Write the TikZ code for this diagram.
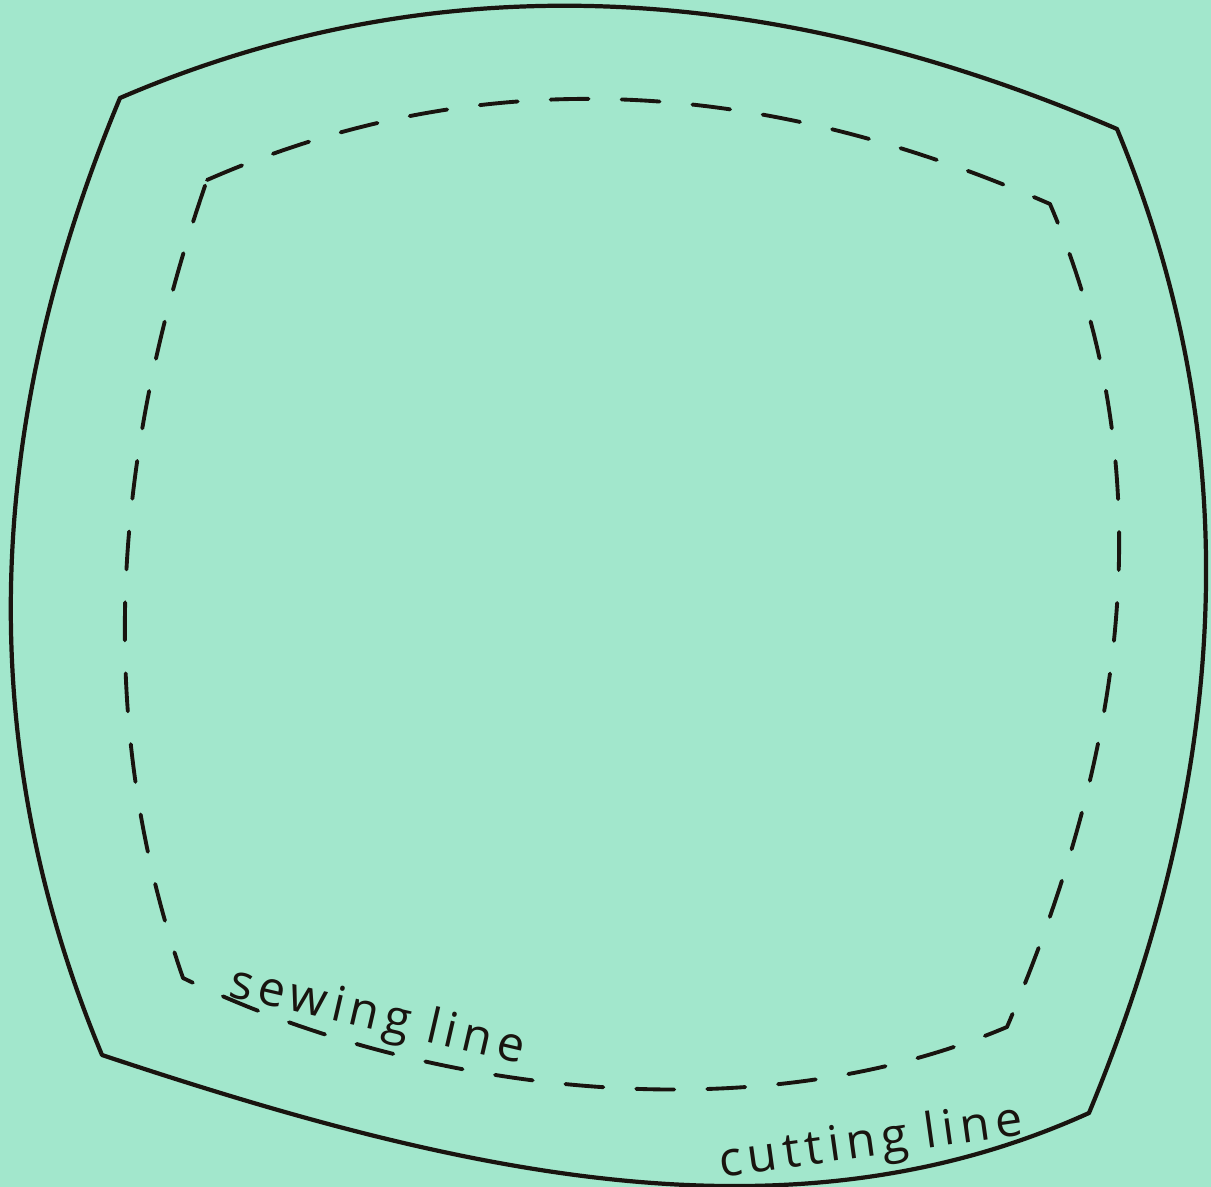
\documentclass[tikz,border=0pt]{standalone}
\usepackage{fontspec}
\setmainfont{Open Sans}
\usetikzlibrary{positioning,calc}
\definecolor{paper}{RGB}{162,231,204}
\definecolor{ink}{RGB}{25,20,15}

\begin{document}
\begin{tikzpicture}[
    cutline/.style={draw=ink, line width=1.2pt, line join=round, line cap=round},
    sewline/.style={draw=ink, line width=1.1pt, dash pattern=on 0.38cm off 0.33cm, line join=round, line cap=round},
    hand/.style={text=ink, inner sep=0pt, anchor=base, font=\fontsize{13.8}{16}\selectfont\addfontfeature{LetterSpace=12}}
]
    % Paper
    \fill[paper] (0,0) rectangle (12.11,-11.87);
    \useasboundingbox (0,0) rectangle (12.11,-11.87);

    % Cutting line
    \coordinate (ctl) at (1.20,-0.98);
    \coordinate (ctr) at (11.17,-1.29);
    \coordinate (cbr) at (10.89,-11.13);
    \coordinate (cbl) at (1.02,-10.55);
    \draw[cutline] (ctl) .. controls +(3.3,1.42) and +(-3.3,1.42) .. (ctr)
        .. controls +(1.36,-3.28) and +(1.36,3.28) .. (cbr)
        .. controls +(-3.0,-1.36) and +(3.6,-1.2) .. (cbl)
        .. controls +(-1.33,3.19) and +(-1.33,-3.19) .. (ctl) -- cycle;

    % Sewing line
    \coordinate (stl) at (2.07,-1.80);
    \coordinate (str) at (10.50,-2.04);
    \coordinate (sbr) at (10.07,-10.27);
    \coordinate (sbl) at (1.83,-9.78);
    \draw[sewline] (stl) .. controls +(2.81,1.23) and +(-2.81,1.23) .. (str)
        .. controls +(1.17,-2.74) and +(1.17,2.74) .. (sbr)
        .. controls +(-2.6,-1.1) and +(2.3,-1.12) .. (sbl)
        .. controls +(-0.92,2.66) and +(-0.92,-2.66) .. (stl);

    % Labels
    \node[hand, rotate=-13] (sew) at (3.74,-10.30) {sewing\hspace{0.35em}line};
    \node[hand, rotate=8] (cut) at (8.73,-11.56) {cutting\hspace{0.35em}line};
\end{tikzpicture}
\end{document}
